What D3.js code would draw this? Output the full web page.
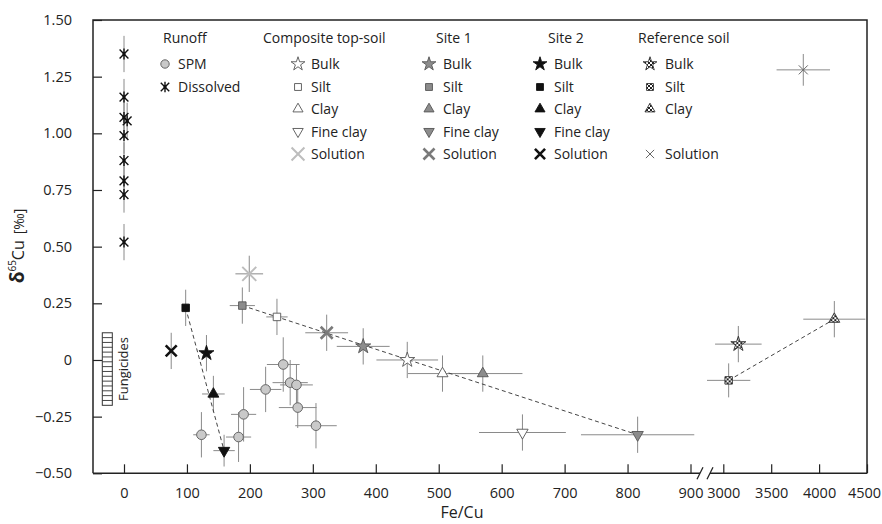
<!DOCTYPE html>
<html>
<head>
<meta charset="utf-8">
<script src="https://cdn.jsdelivr.net/npm/d3@7"></script>
<style>
  body { margin: 0; background: #fff; }
  svg text { font-family: "Open Sans", sans-serif; fill: #222; }
</style>
</head>
<body>
<div id="container"></div>
<script>
// ---- data (Fe/Cu, d65Cu, +- Fe/Cu, +- d65Cu) ----
var spm = [
  {fe: 123, d: -0.33, efe: 13, ed: 0.10},
  {fe: 182, d: -0.34, efe: 20, ed: 0.11},
  {fe: 190, d: -0.24, efe: 20, ed: 0.12},
  {fe: 225, d: -0.13, efe: 25, ed: 0.10},
  {fe: 253, d: -0.02, efe: 26, ed: 0.12},
  {fe: 264, d: -0.10, efe: 28, ed: 0.10},
  {fe: 274, d: -0.11, efe: 26, ed: 0.09},
  {fe: 276, d: -0.21, efe: 30, ed: 0.09},
  {fe: 305, d: -0.29, efe: 33, ed: 0.10}
];
var dissolved = [
  {fe: 0, d: 1.35, efe: 0, ed: 0.08},
  {fe: 0, d: 1.16, efe: 0, ed: 0.08},
  {fe: 0, d: 1.07, efe: 0, ed: 0.08},
  {fe: 5, d: 1.055, efe: 0, ed: 0.08},
  {fe: 0, d: 0.99, efe: 0, ed: 0.08},
  {fe: 0, d: 0.88, efe: 0, ed: 0.08},
  {fe: 0, d: 0.79, efe: 0, ed: 0.08},
  {fe: 0, d: 0.73, efe: 0, ed: 0.08},
  {fe: 0, d: 0.52, efe: 0, ed: 0.08}
];
var composite = [
  {frac: "Bulk", fe: 450, d: 0.00, efe: 49, ed: 0.08},
  {frac: "Silt", fe: 243, d: 0.19, efe: 17, ed: 0.08},
  {frac: "Clay", fe: 506, d: -0.06, efe: 55, ed: 0.08},
  {frac: "Fine clay", fe: 633, d: -0.32, efe: 69, ed: 0.08},
  {frac: "Solution", fe: 199, d: 0.38, efe: 22, ed: 0.08}
];
var site1 = [
  {frac: "Bulk", fe: 380, d: 0.06, efe: 42, ed: 0.08},
  {frac: "Silt", fe: 188, d: 0.24, efe: 20, ed: 0.08},
  {frac: "Clay", fe: 570, d: -0.06, efe: 63, ed: 0.08},
  {frac: "Fine clay", fe: 816, d: -0.33, efe: 90, ed: 0.08},
  {frac: "Solution", fe: 322, d: 0.12, efe: 34, ed: 0.08}
];
var site2 = [
  {frac: "Bulk", fe: 131, d: 0.03, efe: 8, ed: 0.08},
  {frac: "Silt", fe: 98, d: 0.23, efe: 6, ed: 0.08},
  {frac: "Clay", fe: 142, d: -0.15, efe: 18, ed: 0.08},
  {frac: "Fine clay", fe: 159, d: -0.40, efe: 17, ed: 0.07},
  {frac: "Solution", fe: 75, d: 0.04, efe: 0, ed: 0.08}
];
var reference = [
  {frac: "Bulk", fe: 3157, d: 0.07, efe: 243, ed: 0.08},
  {frac: "Silt", fe: 3056, d: -0.09, efe: 226, ed: 0.075},
  {frac: "Clay", fe: 4159, d: 0.18, efe: 324, ed: 0.08},
  {frac: "Solution", fe: 3835, d: 1.28, efe: 279, ed: 0.07}
];
// fungicide range of d65Cu
var fungicides = [-0.2, 0.12];

// mixing lines: from fraction to fraction within a soil
var mixing = [
  {soil: "site1", from: "Silt", to: "Fine clay"},
  {soil: "site2", from: "Silt", to: "Fine clay"},
  {soil: "reference", from: "Silt", to: "Clay"}
];

var yTicks = [1.5, 1.25, 1, 0.75, 0.5, 0.25, 0, -0.25, -0.5];
var xTicksLow = [0, 100, 200, 300, 400, 500, 600, 700, 800, 900];
var xTicksHigh = [3000, 3500, 4000, 4500];

var legendGroups = ["Runoff", "Composite top-soil", "Site 1", "Site 2", "Reference soil"];
var runoffLabels = ["SPM", "Dissolved"];
var fractions = ["Bulk", "Silt", "Clay", "Fine clay", "Solution"];
var referenceFractions = ["Bulk", "Silt", "Clay", null, "Solution"];

// ---- layout ----
var width = 882, height = 524;
var plot = {left: 93, right: 867, top: 20, bottom: 473.3};

var svg = d3.select("div#container").append("svg")
  .attr("width", width)
  .attr("height", height);

// dotted fill for the reference soil
var defs = svg.append("defs");
var pat = defs.append("pattern").attr("id", "dots")
  .attr("patternUnits", "userSpaceOnUse").attr("width", 4).attr("height", 4);
pat.append("rect").attr("width", 4).attr("height", 4).attr("fill", "#fff");
pat.append("rect").attr("width", 2).attr("height", 2).attr("fill", "#222");
pat.append("rect").attr("x", 2).attr("y", 2).attr("width", 2).attr("height", 2).attr("fill", "#222");

var y = d3.scaleLinear().domain([-0.5, 1.5]).range([plot.bottom, plot.top]);
// broken x axis: two linear pieces
var xLow = d3.scaleLinear().domain([0, 900]).range([124, 690.5]);
var xHigh = d3.scaleLinear().domain([3000, 4500]).range([723.3, 867]);
function x(v) { return v < 2000 ? xLow(v) : xHigh(v); }
function clampX(px) { return Math.max(plot.left, Math.min(plot.right, px)); }

// ---- marker styles ----
var styles = {
  composite: {fill: "#fff", stroke: "#555", sol: "#bdbdbd", solW: 2, solH: 7},
  site1: {fill: "#8c8c8c", stroke: "#555", sol: "#7a7a7a", solW: 2.6, solH: 6},
  site2: {fill: "#111", stroke: "#111", sol: "#111", solW: 2.6, solH: 5.5},
  reference: {fill: "url(#dots)", stroke: "#333", sol: "#666", solW: 1, solH: 4.5}
};

function crossPath(h) {
  return "M" + (-h) + "," + (-h) + "L" + h + "," + h + "M" + (-h) + "," + h + "L" + h + "," + (-h);
}
function asteriskPath(h) {
  var a = h * 0.8;
  return "M0," + (-h) + "V" + h + crossPath(a);
}

// draw one marker into group g at (px,py)
function drawMarker(g, soil, frac, px, py, scale) {
  var st = styles[soil];
  var k = scale || 1;
  var t = "translate(" + px + "," + py + ")";
  if (frac === "Solution") {
    g.append("path").attr("d", crossPath(st.solH * k)).attr("transform", t)
      .attr("fill", "none").attr("stroke", st.sol).attr("stroke-width", st.solW);
    return;
  }
  var sym, rot = "";
  if (frac === "Bulk") sym = d3.symbol(d3.symbolStar, 70 * k * k);
  else if (frac === "Silt") sym = d3.symbol(d3.symbolSquare, 56 * k * k);
  else if (frac === "Clay") sym = d3.symbol(d3.symbolTriangle, 52 * k * k);
  else { sym = d3.symbol(d3.symbolTriangle, 56 * k * k); rot = " rotate(180)"; }
  g.append("path").attr("d", sym()).attr("transform", t + rot)
    .attr("fill", st.fill).attr("stroke", st.stroke).attr("stroke-width", 0.9);
}
function drawSpm(g, px, py, r) {
  g.append("circle").attr("cx", px).attr("cy", py).attr("r", r)
    .attr("fill", "#c9c9c9").attr("stroke", "#666").attr("stroke-width", 1);
}
function drawDissolved(g, px, py, h) {
  g.append("path").attr("d", asteriskPath(h)).attr("transform", "translate(" + px + "," + py + ")")
    .attr("fill", "none").attr("stroke", "#111").attr("stroke-width", 1.4);
  g.append("circle").attr("cx", px).attr("cy", py).attr("r", 1.6).attr("fill", "#111");
}

// ---- axes ----
var yAxis = d3.axisLeft(y).tickValues(yTicks).tickSize(-9).tickPadding(21)
  .tickFormat(function(v) { return v === 0 ? "0" : d3.format(".2f")(v); });
svg.append("g").attr("class", "axis").attr("transform", "translate(" + plot.left + ",0)")
  .call(yAxis);

svg.append("g").attr("class", "axis").attr("transform", "translate(0," + plot.bottom + ")")
  .call(d3.axisBottom(xLow).tickValues(xTicksLow).tickSize(-9).tickPadding(14).tickFormat(d3.format("d")));
var xHighAxis = svg.append("g").attr("class", "axis").attr("transform", "translate(0," + plot.bottom + ")")
  .call(d3.axisBottom(xHigh).tickValues(xTicksHigh).tickSize(-9).tickPadding(14).tickFormat(d3.format("d")));

svg.selectAll(".axis .domain").remove();
svg.selectAll(".axis line").attr("stroke", "#222").attr("stroke-width", 1.2);
svg.selectAll(".axis text").style("font-size", "14.5px").attr("fill", "#222");
// keep the last label inside the window
xHighAxis.selectAll(".tick text").filter(function(d) { return d === 4500; }).attr("dx", -3);

// frame with the axis break
var frame = svg.append("g").attr("stroke", "#222").attr("stroke-width", 1.5).attr("fill", "none");
frame.append("path").attr("d", "M" + plot.left + "," + plot.bottom + "V" + plot.top + "H" + plot.right + "V" + plot.bottom);
frame.append("line").attr("x1", plot.left).attr("x2", 700).attr("y1", plot.bottom).attr("y2", plot.bottom);
frame.append("line").attr("x1", 710).attr("x2", plot.right).attr("y1", plot.bottom).attr("y2", plot.bottom);
frame.append("line").attr("x1", 697).attr("y1", plot.bottom + 6).attr("x2", 703).attr("y2", plot.bottom - 6).attr("stroke-width", 1.2);
frame.append("line").attr("x1", 707).attr("y1", plot.bottom + 6).attr("x2", 713).attr("y2", plot.bottom - 6).attr("stroke-width", 1.2);

// axis titles
svg.append("text").attr("x", 462).attr("y", 518).attr("text-anchor", "middle")
  .style("font-size", "16px").text("Fe/Cu");
var yt = svg.append("text").attr("transform", "translate(24,246) rotate(-90)")
  .attr("text-anchor", "middle").style("font-size", "16px");
yt.append("tspan").style("font-size", "19px").style("font-weight", "bold").text("δ");
yt.append("tspan").style("font-size", "10px").attr("dy", -8).text("65");
yt.append("tspan").attr("dy", 8).text("Cu");
yt.append("tspan").style("font-size", "14px").attr("dx", 6).text("[‰]");

// ---- fungicides box ----
var fung = svg.append("g");
var fx0 = 102.3, fx1 = 112.3;
fung.append("rect").attr("x", fx0).attr("y", y(fungicides[1]))
  .attr("width", fx1 - fx0).attr("height", y(fungicides[0]) - y(fungicides[1]))
  .attr("fill", "#fff").attr("stroke", "#333").attr("stroke-width", 1);
d3.range(1, 15).forEach(function(i) {
  var v = fungicides[0] + i * (fungicides[1] - fungicides[0]) / 15;
  fung.append("line").attr("x1", fx0).attr("x2", fx1).attr("y1", y(v)).attr("y2", y(v))
    .attr("stroke", "#333").attr("stroke-width", 0.9);
});
fung.append("text").attr("transform", "translate(127.5," + y((fungicides[0] + fungicides[1]) / 2) + ") rotate(-90)")
  .attr("text-anchor", "middle").style("font-size", "13px").text("Fungicides");

// ---- error bars ----
var soils = {composite: composite, site1: site1, site2: site2, reference: reference};
var allPoints = spm.concat(dissolved, composite, site1, site2, reference);
var errG = svg.append("g").attr("stroke", "#8a8a8a").attr("stroke-width", 1);
allPoints.forEach(function(p) {
  var px = x(p.fe), py = y(p.d);
  if (p.ed) errG.append("line").attr("x1", px).attr("x2", px).attr("y1", y(p.d - p.ed)).attr("y2", y(p.d + p.ed));
  if (p.efe) errG.append("line").attr("x1", clampX(x(p.fe - p.efe))).attr("x2", clampX(x(p.fe + p.efe)))
    .attr("y1", py).attr("y2", py);
});

// ---- mixing lines ----
mixing.forEach(function(m) {
  var pts = soils[m.soil];
  var a = pts.find(function(p) { return p.frac === m.from; });
  var b = pts.find(function(p) { return p.frac === m.to; });
  svg.append("line").attr("x1", x(a.fe)).attr("y1", y(a.d)).attr("x2", x(b.fe)).attr("y2", y(b.d))
    .attr("stroke", "#444").attr("stroke-width", 1).attr("stroke-dasharray", "4,3");
});

// ---- markers ----
var markG = svg.append("g");
spm.forEach(function(p) { drawSpm(markG, x(p.fe), y(p.d), 4.8); });
dissolved.forEach(function(p) { drawDissolved(markG, x(p.fe), y(p.d), 5.5); });
Object.keys(soils).forEach(function(s) {
  soils[s].forEach(function(p) { drawMarker(markG, s, p.frac, x(p.fe), y(p.d)); });
});

// ---- legend ----
var leg = svg.append("g").style("font-size", "14px");
var headX = [163, 263, 436, 548, 638];
var markX = [165, 298, 429, 540, 650];
var textX = [178, 311, 443, 554, 665];
var rowY = [64, 87, 109, 131.5, 154];
legendGroups.forEach(function(name, i) {
  leg.append("text").attr("x", headX[i]).attr("y", 43).text(name);
});
runoffLabels.forEach(function(lab, r) {
  if (r === 0) drawSpm(leg, markX[0], rowY[r], 4.2);
  else drawDissolved(leg, markX[0], rowY[r], 5.3);
  leg.append("text").attr("x", textX[0]).attr("y", rowY[r] + 5).text(lab);
});
[["composite", fractions], ["site1", fractions], ["site2", fractions], ["reference", referenceFractions]]
  .forEach(function(c, j) {
    var col = j + 1;
    c[1].forEach(function(f, r) {
      if (!f) return;
      drawMarker(leg, c[0], f, markX[col], rowY[r], 0.92);
      leg.append("text").attr("x", textX[col]).attr("y", rowY[r] + 5).text(f);
    });
  });
</script>
</body>
</html>
